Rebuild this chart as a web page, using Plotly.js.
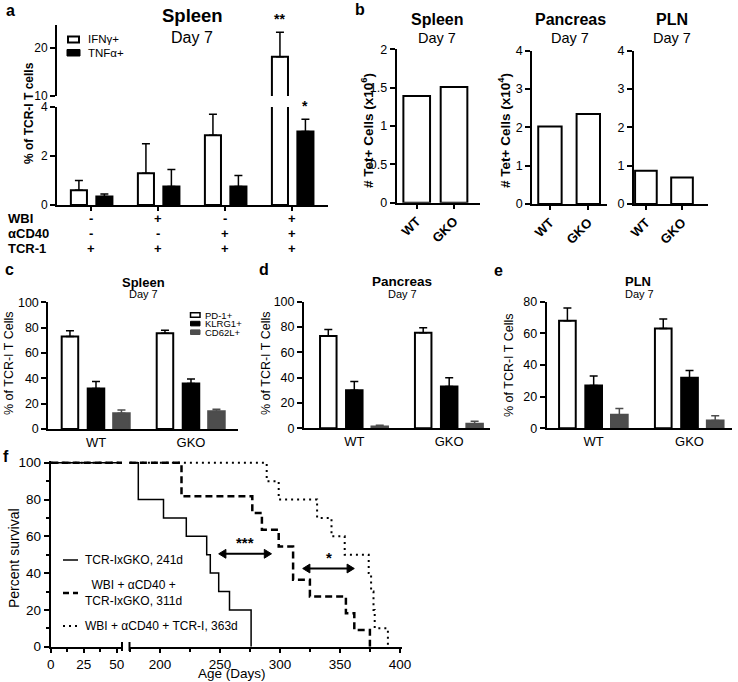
<!DOCTYPE html>
<html>
<head>
<meta charset="utf-8">
<script src="https://cdn.plot.ly/plotly-3.0.1.min.js"></script>
<style>
  body { margin: 0; background: #fff; }
  #fig { width: 738px; height: 682px; }
</style>
</head>
<body>
<div id="fig"></div>
<script>
var W = 738, H = 682;
function X(px) { return px / W; }
function Y(py) { return 1 - py / H; }
var FONT = 'Liberation Sans, Arial, sans-serif';
var GRAY = '#4d4d4d';

// a: cytokine+ TCR-I cells, spleen day 7
var aX = [0, 1, 2, 3];
var ifnVal = [0.6, 1.3, 2.85, 18.2];
var ifnErr = [0.4, 1.2, 0.85, 5.1];
var tnfVal = [0.35, 0.75, 0.75, 3.0];
var tnfErr = [0.1, 0.7, 0.45, 0.5];
var ifnSig = ['', '', '', '**'];
var tnfSig = ['', '', '', '*'];
var rowNames = ['WBI', '\u03b1CD40', 'TCR-1'];
var wbiRow = ['-', '+', '-', '+'];
var cd40Row = ['-', '-', '+', '+'];
var tcrRow = ['+', '+', '+', '+'];

// b: tetramer+ cell counts
var geno = ['WT', 'GKO'];
var tetSpleen = [1.39, 1.51];     // x10^6
var tetPancreas = [2.02, 2.35];   // x10^4
var tetPLN = [0.87, 0.69];        // x10^4

// c-e: phenotype of TCR-I cells
var phenos = ['PD-1+', 'KLRG1+', 'CD62L+'];
var cPD1 = [73, 75.5],  cPD1Err = [4.5, 2.5];
var cKLRG1 = [32, 36],  cKLRG1Err = [5.5, 3.5];
var cCD62L = [12.5, 14], cCD62LErr = [2.5, 1.5];
var dPD1 = [73, 75.5],  dPD1Err = [5, 4];
var dKLRG1 = [30, 33],  dKLRG1Err = [7, 7];
var dCD62L = [1.5, 3.5], dCD62LErr = [1, 2];
var ePD1 = [68, 63],    ePD1Err = [8, 6];
var eKLRG1 = [27, 32],  eKLRG1Err = [6, 4.5];
var eCD62L = [8.5, 5],  eCD62LErr = [4, 3];

// f: survival
var solidDays = [0, 182, 203, 222, 239, 242, 249, 258, 276];
var solidSurv = [100, 80, 70, 60, 50, 40, 30, 20, 0];
var dashDays = [0, 218, 277, 285, 299, 311, 325, 355, 362, 375];
var dashSurv = [100, 81.8, 72.7, 63.6, 54.5, 36.4, 27.3, 18.2, 9.1, 0];
var dotDays = [0, 289, 299, 331, 343, 354, 374, 376, 378, 379, 390];
var dotSurv = [100, 90, 80, 70, 60, 50, 40, 30, 20, 10, 0];
var survNames = ['TCR-IxGKO, 241d', 'WBI + \u03b1CD40 +<br>TCR-IxGKO, 311d', 'WBI + \u03b1CD40 + TCR-I, 363d'];
var sigFrom = [249, 319];
var sigTo = [293, 362];
var sigAt = [50.5, 42.5];
var sigLabel = ['***', '*'];

function bars(x, y, err, xa, ya, fill, off, w) {
  var edge = fill === '#fff' ? '#000' : fill;
  var t = {
    type: 'bar', x: x, y: y, xaxis: xa, yaxis: ya,
    offset: off, width: w,
    marker: {color: fill, line: {color: edge, width: 2}},
    showlegend: false, hoverinfo: 'skip'
  };
  if (err) {
    t.error_y = {type: 'data', symmetric: false, array: err,
      arrayminus: err.map(function () { return 0; }),
      color: edge, thickness: 1.5, width: 4};
  }
  return t;
}

function steps(days, surv, xa, dash, width) {
  return {
    type: 'scatter', mode: 'lines', x: days, y: surv, xaxis: xa, yaxis: 'y9',
    line: {shape: 'hv', color: '#000', width: width, dash: dash},
    showlegend: false, hoverinfo: 'skip'
  };
}

var data = [
  bars(aX, ifnVal, ifnErr, 'x', 'y', '#fff', -0.30, 0.24),
  bars(aX, tnfVal, tnfErr, 'x', 'y', '#000', 0.08, 0.24),
  bars(aX, ifnVal, ifnErr, 'x2', 'y2', '#fff', -0.30, 0.24),
  bars(aX, tnfVal, tnfErr, 'x2', 'y2', '#000', 0.08, 0.24),
  bars(geno, tetSpleen, null, 'x3', 'y3', '#fff', -0.357, 0.715),
  bars(geno, tetPancreas, null, 'x4', 'y4', '#fff', -0.305, 0.61),
  bars(geno, tetPLN, null, 'x5', 'y5', '#fff', -0.3, 0.6)
];

var phenoOff = [-0.361, -0.087, 0.181];
var phenoFill = ['#fff', '#000', GRAY];
[[cPD1, cPD1Err, cKLRG1, cKLRG1Err, cCD62L, cCD62LErr, 'x6', 'y6'],
 [dPD1, dPD1Err, dKLRG1, dKLRG1Err, dCD62L, dCD62LErr, 'x7', 'y7'],
 [ePD1, ePD1Err, eKLRG1, eKLRG1Err, eCD62L, eCD62LErr, 'x8', 'y8']].forEach(function (p) {
  for (var k = 0; k < 3; k++) {
    data.push(bars(geno, p[2 * k], p[2 * k + 1], p[6], p[7], phenoFill[k], phenoOff[k], 0.174));
  }
});

['x9', 'x10'].forEach(function (xa) {
  data.push(steps(dotDays, dotSurv, xa, '2px,4px', 2));
  data.push(steps(dashDays, dashSurv, xa, '7px,4px', 2.5));
  data.push(steps(solidDays, solidSurv, xa, 'solid', 1.5));
});

function axis(domain, range, extra) {
  var o = {
    domain: domain, range: range, showline: true, linecolor: '#000', linewidth: 2,
    ticks: 'outside', ticklen: 5, tickwidth: 2, tickcolor: '#000',
    showgrid: false, zeroline: false, fixedrange: true,
    tickfont: {size: 13, color: '#000'}
  };
  for (var k in extra) o[k] = extra[k];
  return o;
}

var ann = [];
function text(x, y, s, size, extra) {
  var o = {xref: 'paper', yref: 'paper', x: x, y: y, text: s, showarrow: false,
    font: {size: size, color: '#000'}, xanchor: 'center', yanchor: 'middle'};
  for (var k in extra) o[k] = extra[k];
  ann.push(o);
}

// panel letters
text(X(4), 1, '<b>a</b>', 16, {xanchor: 'left', yanchor: 'top'});
text(X(353), Y(10), '<b>b</b>', 16, {xanchor: 'left'});
text(X(3), Y(269), '<b>c</b>', 16, {xanchor: 'left'});
text(X(257), Y(269), '<b>d</b>', 16, {xanchor: 'left'});
text(X(492), Y(270), '<b>e</b>', 16, {xanchor: 'left'});
text(X(1), Y(456), '<b>f</b>', 16, {xanchor: 'left'});

// titles
text(X(192), Y(16), '<b>Spleen</b>', 18.5);
text(X(192), Y(38), 'Day 7', 16);
text(X(437), Y(20), '<b>Spleen</b>', 16);
text(X(437), Y(38), 'Day 7', 14.5);
text(X(570), Y(20), '<b>Pancreas</b>', 16);
text(X(570), Y(38), 'Day 7', 14.5);
text(X(672), Y(20), '<b>PLN</b>', 16);
text(X(672), Y(38), 'Day 7', 14.5);
text(X(143), Y(282), '<b>Spleen</b>', 13);
text(X(143), Y(294), 'Day 7', 11);
text(X(402), Y(281), '<b>Pancreas</b>', 13.5);
text(X(402), Y(294), 'Day 7', 11);
text(X(638), Y(281), '<b>PLN</b>', 13);
text(X(639), Y(294), 'Day 7', 11);

// axis titles
text(X(29), Y(113), '<b>% of TCR-I T cells</b>', 12, {textangle: -90});
text(X(367), Y(131), '<b># Tet+ Cells (x10<sup>6</sup>)</b>', 13.5, {textangle: -90});
text(X(504), Y(131), '<b># Tet+ Cells (x10<sup>4</sup>)</b>', 13.5, {textangle: -90});
text(X(9), Y(363), '% of TCR-I T Cells', 12.5, {textangle: -90});
text(X(266), Y(363), '% of TCR-I T Cells', 12.5, {textangle: -90});
text(X(509), Y(365), '% of TCR-I T Cells', 12.5, {textangle: -90});
text(X(14), Y(558), 'Percent survival', 14, {textangle: -90});
text(X(232), 0, 'Age (Days)', 13.5, {yanchor: 'bottom', borderpad: 0});

// a: treatment rows
[wbiRow, cd40Row, tcrRow].forEach(function (row, r) {
  var py = [219, 234, 248][r];
  text(X(6), Y(py), '<b>' + rowNames[r] + '</b>', 13, {xanchor: 'left'});
  row.forEach(function (s, i) {
    ann.push({xref: 'x', yref: 'paper', x: aX[i], y: Y(py), text: '<b>' + s + '</b>',
      xanchor: 'center', yanchor: 'middle',
      showarrow: false, font: {size: 13, color: '#000'}});
  });
});

// a: significance stars
function stars(sig, val, err, mid) {
  sig.forEach(function (s, i) {
    if (!s) return;
    var top = val[i] + err[i];
    ann.push({xref: 'x', yref: top > 10 ? 'y2' : 'y', x: aX[i] + mid, y: top,
      text: '<b>' + s + '</b>', showarrow: false, xanchor: 'center', yanchor: 'bottom', yshift: 3,
      font: {size: 14, color: '#000'}});
  });
}
stars(ifnSig, ifnVal, ifnErr, -0.18);
stars(tnfSig, tnfVal, tnfErr, 0.20);

var shapes = [];

// f: comparison arrows (double-headed), built from the comparison arrays
var headL = 6, headH = 2.4;
sigLabel.forEach(function (s, i) {
  var a = sigFrom[i], b = sigTo[i], yv = sigAt[i];
  shapes.push({type: 'line', xref: 'x10', yref: 'y9', x0: a + headL / 2, x1: b - headL / 2, y0: yv, y1: yv,
    line: {color: '#000', width: 2}});
  shapes.push({type: 'path', xref: 'x10', yref: 'y9', fillcolor: '#000', line: {color: '#000', width: 1},
    path: 'M' + a + ',' + yv + ' L' + (a + headL) + ',' + (yv + headH) + ' L' + (a + headL) + ',' + (yv - headH) + ' Z'});
  shapes.push({type: 'path', xref: 'x10', yref: 'y9', fillcolor: '#000', line: {color: '#000', width: 1},
    path: 'M' + b + ',' + yv + ' L' + (b - headL) + ',' + (yv + headH) + ' L' + (b - headL) + ',' + (yv - headH) + ' Z'});
  ann.push({xref: 'x10', yref: 'y9', x: (a + b) / 2, y: yv,
    text: '<b>' + s + '</b>', showarrow: false, xanchor: 'center', yanchor: 'bottom', yshift: 1,
    font: {size: 15, color: '#000'}});
});

// legends drawn by hand (tight spacing as in the figure)
function box(x0, x1, y0, y1, fill, lw) {
  shapes.push({type: 'rect', xref: 'paper', yref: 'paper', x0: X(x0), x1: X(x1), y0: Y(y1), y1: Y(y0),
    fillcolor: fill, line: {color: fill === '#fff' ? '#000' : fill, width: lw}});
}
box(68, 79, 36.5, 42.5, '#fff', 2);
box(67, 80, 49.5, 56, '#000', 1);
text(X(86), Y(39.5), 'IFN\u03b3+', 11.5, {xanchor: 'left'});
text(X(86), Y(53), 'TNF\u03b1+', 11.5, {xanchor: 'left'});
phenos.forEach(function (p, k) {
  var py = 315 + 8.6 * k;
  box(190.5, 200, py - 2.3, py + 2.3, phenoFill[k], k === 0 ? 1.5 : 1);
  text(X(204), Y(py), p, 9.5, {xanchor: 'left', borderpad: 0});
});
var legDash = ['solid', '6px,4px', '2px,4px'];
var legW = [1.5, 2.5, 2];
[560, 593, 626].forEach(function (py, k) {
  shapes.push({type: 'line', xref: 'paper', yref: 'paper', x0: X(63), x1: X(78), y0: Y(py), y1: Y(py),
    line: {color: '#000', width: legW[k], dash: legDash[k]}});
  text(X(83), Y(py), survNames[k], 12, {xanchor: 'left'});
});
// f: axis break marks
[122, 129.5].forEach(function (px) {
  shapes.push({type: 'line', xref: 'paper', yref: 'paper', x0: X(px), x1: X(px), y0: Y(642), y1: Y(651),
    line: {color: '#000', width: 2}});
});

var aRange = [-0.507, 3.537];
var fTick = {size: 13.5, color: '#000'};
var aTick = {size: 12, color: '#000'};
var layout = {
  width: W, height: H, margin: {l: 0, r: 0, t: 0, b: 0},
  paper_bgcolor: '#fff', plot_bgcolor: 'rgba(0,0,0,0)',
  font: {family: FONT, color: '#000'},
  showlegend: false, barmode: 'overlay',
  xaxis: axis([X(57), X(328)], aRange, {anchor: 'y', tickvals: aX, showticklabels: false, ticklen: 4}),
  yaxis: axis([Y(205), Y(107)], [0, 4], {anchor: 'x', tickvals: [0, 2, 4], tickfont: aTick}),
  xaxis2: axis([X(57), X(328)], aRange, {anchor: 'y2', visible: false}),
  yaxis2: axis([Y(96), Y(25)], [10, 24.8], {anchor: 'x2', tickvals: [10, 20], tickfont: aTick}),
  xaxis3: axis([X(396.7), X(480)], [-0.536, 1.697], {anchor: 'y3', type: 'category', tickangle: -45, ticklen: 4,
    tickfont: {size: 13, weight: 'bold', color: '#000'}}),
  yaxis3: axis([Y(202.7), Y(49.3)], [0, 2], {anchor: 'x3', dtick: 0.5, tickfont: {size: 12.5, color: '#000'}}),
  xaxis4: axis([X(532.3), X(606.7)], [-0.46, 1.48], {anchor: 'y4', type: 'category', tickangle: -45, ticklen: 4,
    tickfont: {size: 13, weight: 'bold', color: '#000'}}),
  yaxis4: axis([Y(204), Y(50.7)], [0, 4], {anchor: 'x4', dtick: 1, tickfont: {size: 12.5, color: '#000'}}),
  xaxis5: axis([X(634), X(708)], [-0.33, 1.72], {anchor: 'y5', type: 'category', tickangle: -45, ticklen: 4,
    tickfont: {size: 13, weight: 'bold', color: '#000'}}),
  yaxis5: axis([Y(204), Y(50.7)], [0, 4], {anchor: 'x5', dtick: 1, tickfont: {size: 12.5, color: '#000'}}),
  xaxis6: axis([X(48.3), X(238.3)], [-0.502, 1.498], {anchor: 'y6', type: 'category', ticks: ''}),
  yaxis6: axis([Y(429), Y(302.3)], [0, 100], {anchor: 'x6', dtick: 20, tickfont: {size: 12.5, color: '#000'}}),
  xaxis7: axis([X(304), X(490)], [-0.53, 1.43], {anchor: 'y7', type: 'category', ticks: ''}),
  yaxis7: axis([Y(428.3), Y(301.7)], [0, 100], {anchor: 'x7', dtick: 20, tickfont: {size: 12.5, color: '#000'}}),
  xaxis8: axis([X(546.7), X(731.7)], [-0.49, 1.44], {anchor: 'y8', type: 'category', ticks: ''}),
  yaxis8: axis([Y(428.3), Y(301.7)], [0, 80], {anchor: 'x8', dtick: 20, tickfont: {size: 12.5, color: '#000'}}),
  xaxis9: axis([X(50.7), X(122)], [0, 54], {anchor: 'y9', tickvals: [0, 25, 50], tickfont: fTick, ticklen: 4,
    minor: {tickvals: [12.5, 37.5], ticks: 'outside', ticklen: 3, tickwidth: 2, tickcolor: '#000'}}),
  xaxis10: axis([X(129.3), X(401.7)], [174.5, 401.5], {anchor: 'y9', tick0: 0, dtick: 50, tickfont: fTick, ticklen: 4,
    minor: {dtick: 25, ticks: 'outside', ticklen: 3, tickwidth: 2, tickcolor: '#000'}}),
  yaxis9: axis([Y(646.7), Y(460.9)], [0, 101], {anchor: 'x9', tickvals: [0, 20, 40, 60, 80, 100], tickfont: fTick,
    minor: {tickvals: [10, 30, 50, 70, 90], ticks: 'outside', ticklen: 3, tickwidth: 2, tickcolor: '#000'}}),
  annotations: ann,
  shapes: shapes
};

Plotly.newPlot('fig', data, layout, {displayModeBar: false, staticPlot: true});
</script>
</body>
</html>
